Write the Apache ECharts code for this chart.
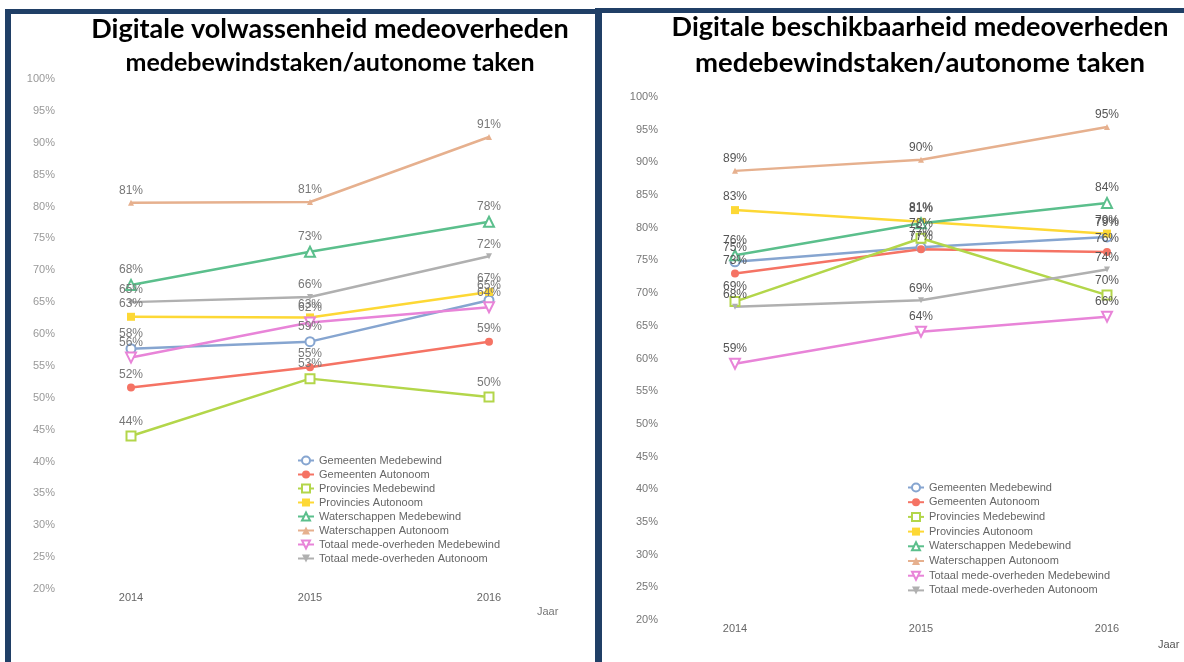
<!DOCTYPE html>
<html>
<head>
<meta charset="utf-8">
<script src="https://cdn.jsdelivr.net/npm/echarts@6/dist/echarts.min.js"></script>
<style>
  html, body { margin: 0; padding: 0; background: #fff; }
  #chart { width: 1184px; height: 662px; }
</style>
</head>
<body>
<div id="chart"></div>
<script>
// jaren op de x-as
var years = ['2014', '2015', '2016'];
var yTicks = [20, 100, 5];

var seriesNames = [
  'Gemeenten Medebewind', 'Gemeenten Autonoom',
  'Provincies Medebewind', 'Provincies Autonoom',
  'Waterschappen Medebewind', 'Waterschappen Autonoom',
  'Totaal mede-overheden Medebewind', 'Totaal mede-overheden Autonoom'
];

// links: digitale volwassenheid
var volGemMede   = [57.7, 58.8, 65.3];
var volGemAuto   = [51.6, 54.8, 58.8];
var volProvMede  = [44.0, 53.0, 50.1];
var volProvAuto  = [62.7, 62.6, 66.6];
var volWaterMede = [67.7, 72.9, 77.6];
var volWaterAuto = [80.6, 80.7, 90.9];
var volTotMede   = [56.3, 61.8, 64.2];
var volTotAuto   = [65.0, 65.8, 72.2];

// rechts: digitale beschikbaarheid
var besGemMede   = [74.8, 77.0, 78.6];
var besGemAuto   = [73.0, 76.7, 76.3];
var besProvMede  = [68.7, 78.4, 69.7];
var besProvAuto  = [82.7, 80.9, 79.1];
var besWaterMede = [75.8, 80.7, 83.8];
var besWaterAuto = [88.7, 90.4, 95.4];
var besTotMede   = [59.2, 64.1, 66.4];
var besTotAuto   = [67.9, 68.9, 73.6];

var colors = ['#86a5d0', '#f57364', '#b3d64a', '#fdd835', '#5bbf8c', '#e6b08e', '#e884d8', '#b0b0b0'];
var symbols = ['emptyCircle', 'circle', 'emptyRect', 'rect', 'emptyTriangle', 'triangle', 'emptyTriangle', 'triangle'];
var rotates = [0, 0, 0, 0, 0, 0, 180, 180];
var sizes = [9, 8, 9, 8, 10, 6, 10, 6];

var navy = '#203f66';
var myChart = echarts.init(document.getElementById('chart'));

function makeSeries(arr, idx) {
  var list = [];
  for (var i = 0; i < arr.length; i++) {
    list.push({
      name: seriesNames[i],
      type: 'line',
      xAxisIndex: idx,
      yAxisIndex: idx,
      data: arr[i],
      color: colors[i],
      symbol: symbols[i],
      symbolRotate: rotates[i],
      symbolSize: sizes[i],
      lineStyle: { width: 2.5 },
      itemStyle: { borderWidth: 2 },
      label: {
        show: true,
        position: 'top',
        distance: 3,
        fontFamily: 'Liberation Sans',
        fontSize: 12,
        color: idx === 0 ? '#777' : '#555',
        formatter: function (p) { return Math.round(p.value) + '%'; }
      },
      z: 2
    });
  }
  return list;
}

function yAxis(idx) {
  return {
    type: 'value',
    gridIndex: idx,
    min: yTicks[0], max: yTicks[1], interval: yTicks[2],
    splitLine: { show: false },
    axisLine: { show: false },
    axisTick: { show: false },
    axisLabel: {
      margin: idx === 0 ? 76 : 77,
      fontFamily: 'Liberation Sans',
      fontSize: 11,
      color: idx === 0 ? '#999' : '#777',
      formatter: '{value}%'
    }
  };
}

function xAxis(idx) {
  return {
    type: 'category',
    gridIndex: idx,
    data: years,
    boundaryGap: false,
    axisLine: { show: false },
    axisTick: { show: false },
    axisLabel: { margin: 3, fontFamily: 'Liberation Sans', fontSize: 11, color: '#666' }
  };
}

function legend(left, top, gap) {
  return {
    orient: 'vertical',
    left: left, top: top,
    itemWidth: 16, itemHeight: 10, itemGap: gap,
    data: seriesNames,
    textStyle: { fontFamily: 'Liberation Sans', fontSize: 11, color: '#666' }
  };
}

var titleFont = 'Lato';

option = {
  backgroundColor: '#fff',
  animation: false,
  title: [
    { text: 'Digitale volwassenheid medeoverheden', left: 325, top: 11, textAlign: 'center',
      textStyle: { fontFamily: titleFont, fontWeight: 'bold', fontSize: 27, color: '#000' } },
    { text: 'medebewindstaken/autonome taken', left: 325, top: 45, textAlign: 'center',
      textStyle: { fontFamily: titleFont, fontWeight: 'bold', fontSize: 25, color: '#000' } },
    { text: 'Digitale beschikbaarheid medeoverheden', left: 915, top: 9, textAlign: 'center',
      textStyle: { fontFamily: titleFont, fontWeight: 'bold', fontSize: 27, color: '#000' } },
    { text: 'medebewindstaken/autonome taken', left: 915, top: 44, textAlign: 'center',
      textStyle: { fontFamily: titleFont, fontWeight: 'bold', fontSize: 27.5, color: '#000' } }
  ],
  legend: [legend(292, 450, 3), legend(902, 477, 3.7)],
  grid: [
    { left: 131, right: 695, top: 79, bottom: 73 },
    { left: 735, right: 77, top: 97, bottom: 42 }
  ],
  xAxis: [xAxis(0), xAxis(1)],
  yAxis: [yAxis(0), yAxis(1)],
  series: makeSeries([volGemMede, volGemAuto, volProvMede, volProvAuto, volWaterMede, volWaterAuto, volTotMede, volTotAuto], 0)
    .concat(makeSeries([besGemMede, besGemAuto, besProvMede, besProvAuto, besWaterMede, besWaterAuto, besTotMede, besTotAuto], 1)),
  graphic: [
    { type: 'rect', shape: { x: 5, y: 9, width: 595, height: 5 }, style: { fill: navy } },
    { type: 'rect', shape: { x: 5, y: 9, width: 6, height: 653 }, style: { fill: navy } },
    { type: 'rect', shape: { x: 595, y: 8, width: 589, height: 5 }, style: { fill: navy } },
    { type: 'rect', shape: { x: 595, y: 8, width: 7, height: 654 }, style: { fill: navy } },
    { type: 'text', left: 537, top: 606, style: { text: 'Jaar', fontFamily: 'Liberation Sans', fontSize: 11, fill: '#777' } },
    { type: 'text', left: 1158, top: 639, style: { text: 'Jaar', fontFamily: 'Liberation Sans', fontSize: 11, fill: '#555' } }
  ]
};

myChart.setOption(option);
</script>
</body>
</html>
